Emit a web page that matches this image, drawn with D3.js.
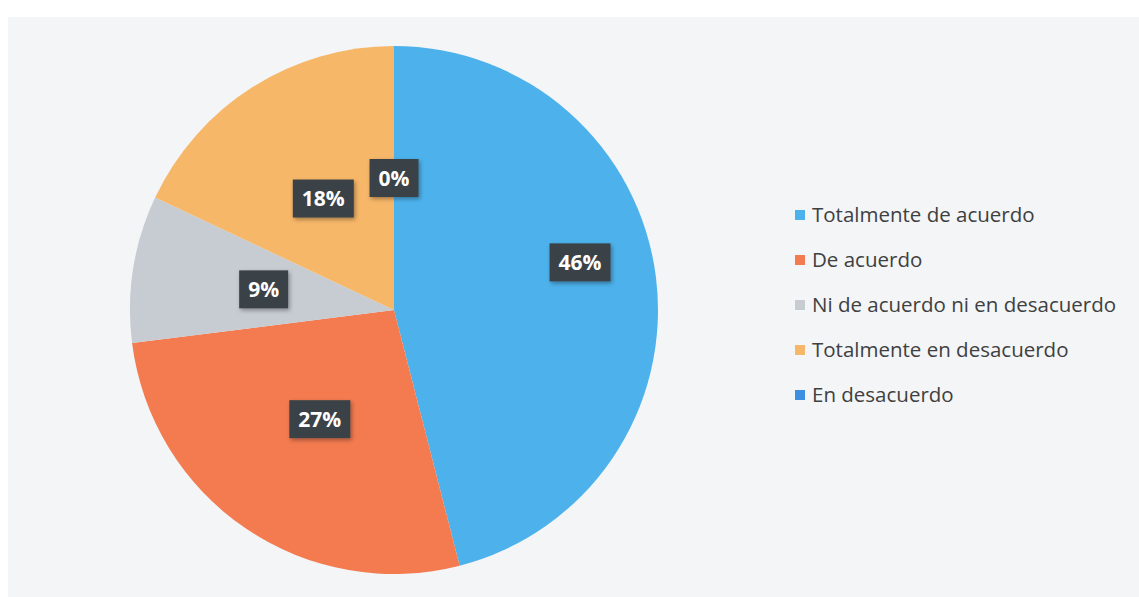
<!DOCTYPE html>
<html><head><meta charset="utf-8">
<script src="https://cdn.jsdelivr.net/npm/d3@7/dist/d3.min.js"></script>
<style>body{margin:0;background:#fff;}svg{display:block;}</style>
</head><body>
<script>
const categories = ["Totalmente de acuerdo","De acuerdo","Ni de acuerdo ni en desacuerdo","Totalmente en desacuerdo","En desacuerdo"];
const values = [46, 27, 9, 18, 0];
const labels = ["46%","27%","9%","18%","0%"];
const colors = ["#4db2ec","#f47b50","#c7ccd2","#f7b769","#3f8fe0"];

const W = 1139, H = 597;
const svg = d3.select("body").append("svg").attr("width", W).attr("height", H);
const defs = svg.append("defs");
const f = defs.append("filter").attr("id","sh").attr("x","-30%").attr("y","-30%").attr("width","160%").attr("height","160%");
f.append("feDropShadow").attr("dx",1.5).attr("dy",2).attr("stdDeviation",2).attr("flood-color","#000").attr("flood-opacity",0.35);

svg.append("rect").attr("x",8).attr("y",17).attr("width",W-8).attr("height",H-17).attr("fill","#f3f5f7");

const cx = 394, cy = 310, R = 264;
const data = categories.map((c,i) => ({i, v: values[i]}));
const pie = d3.pie().sort(null).value(d => d.v);
const arcs = pie(data);
const arc = d3.arc().innerRadius(0).outerRadius(R);
const g = svg.append("g").attr("transform", `translate(${cx},${cy})`);
g.selectAll("path").data(arcs).join("path").attr("d", arc).attr("fill", d => colors[d.data.i]);

// label placement (Excel best-fit style)
const lbl = g.selectAll("g.lbl").data(arcs).join("g").attr("class","lbl");
lbl.each(function(d){
  const big = d.data.v === d3.max(values);
  let a = (d.startAngle + d.endAngle)/2;
  let r = 132;
  if (big) { a -= 0.125; r = 192; }
  const x = r*Math.sin(a), y = -r*Math.cos(a);
  const s = d3.select(this).attr("transform", `translate(${x},${y})`);
  const t = s.append("text").text(labels[d.data.i]).attr("text-anchor","middle").attr("dy","0.36em")
    .attr("fill","#fff").attr("font-family","Open Sans, sans-serif").attr("font-weight","bold").attr("font-size",21);
  const bb = t.node().getBBox();
  s.insert("rect","text").attr("x", bb.x-9).attr("y", -19).attr("width", bb.width+18).attr("height", 38)
    .attr("fill","#3b4347").attr("filter","url(#sh)");
});

const leg = svg.append("g").attr("transform","translate(795,215)");
categories.forEach((c,k) => {
  const row = leg.append("g").attr("transform",`translate(0,${k*45})`);
  row.append("rect").attr("x",0).attr("y",-5).attr("width",10).attr("height",10).attr("fill",colors[k]);
  row.append("text").attr("x",17).attr("dy","0.35em").text(c).attr("fill","#404040")
    .attr("font-family","Open Sans, sans-serif").attr("font-size",20.5);
});
</script>
</body></html>
